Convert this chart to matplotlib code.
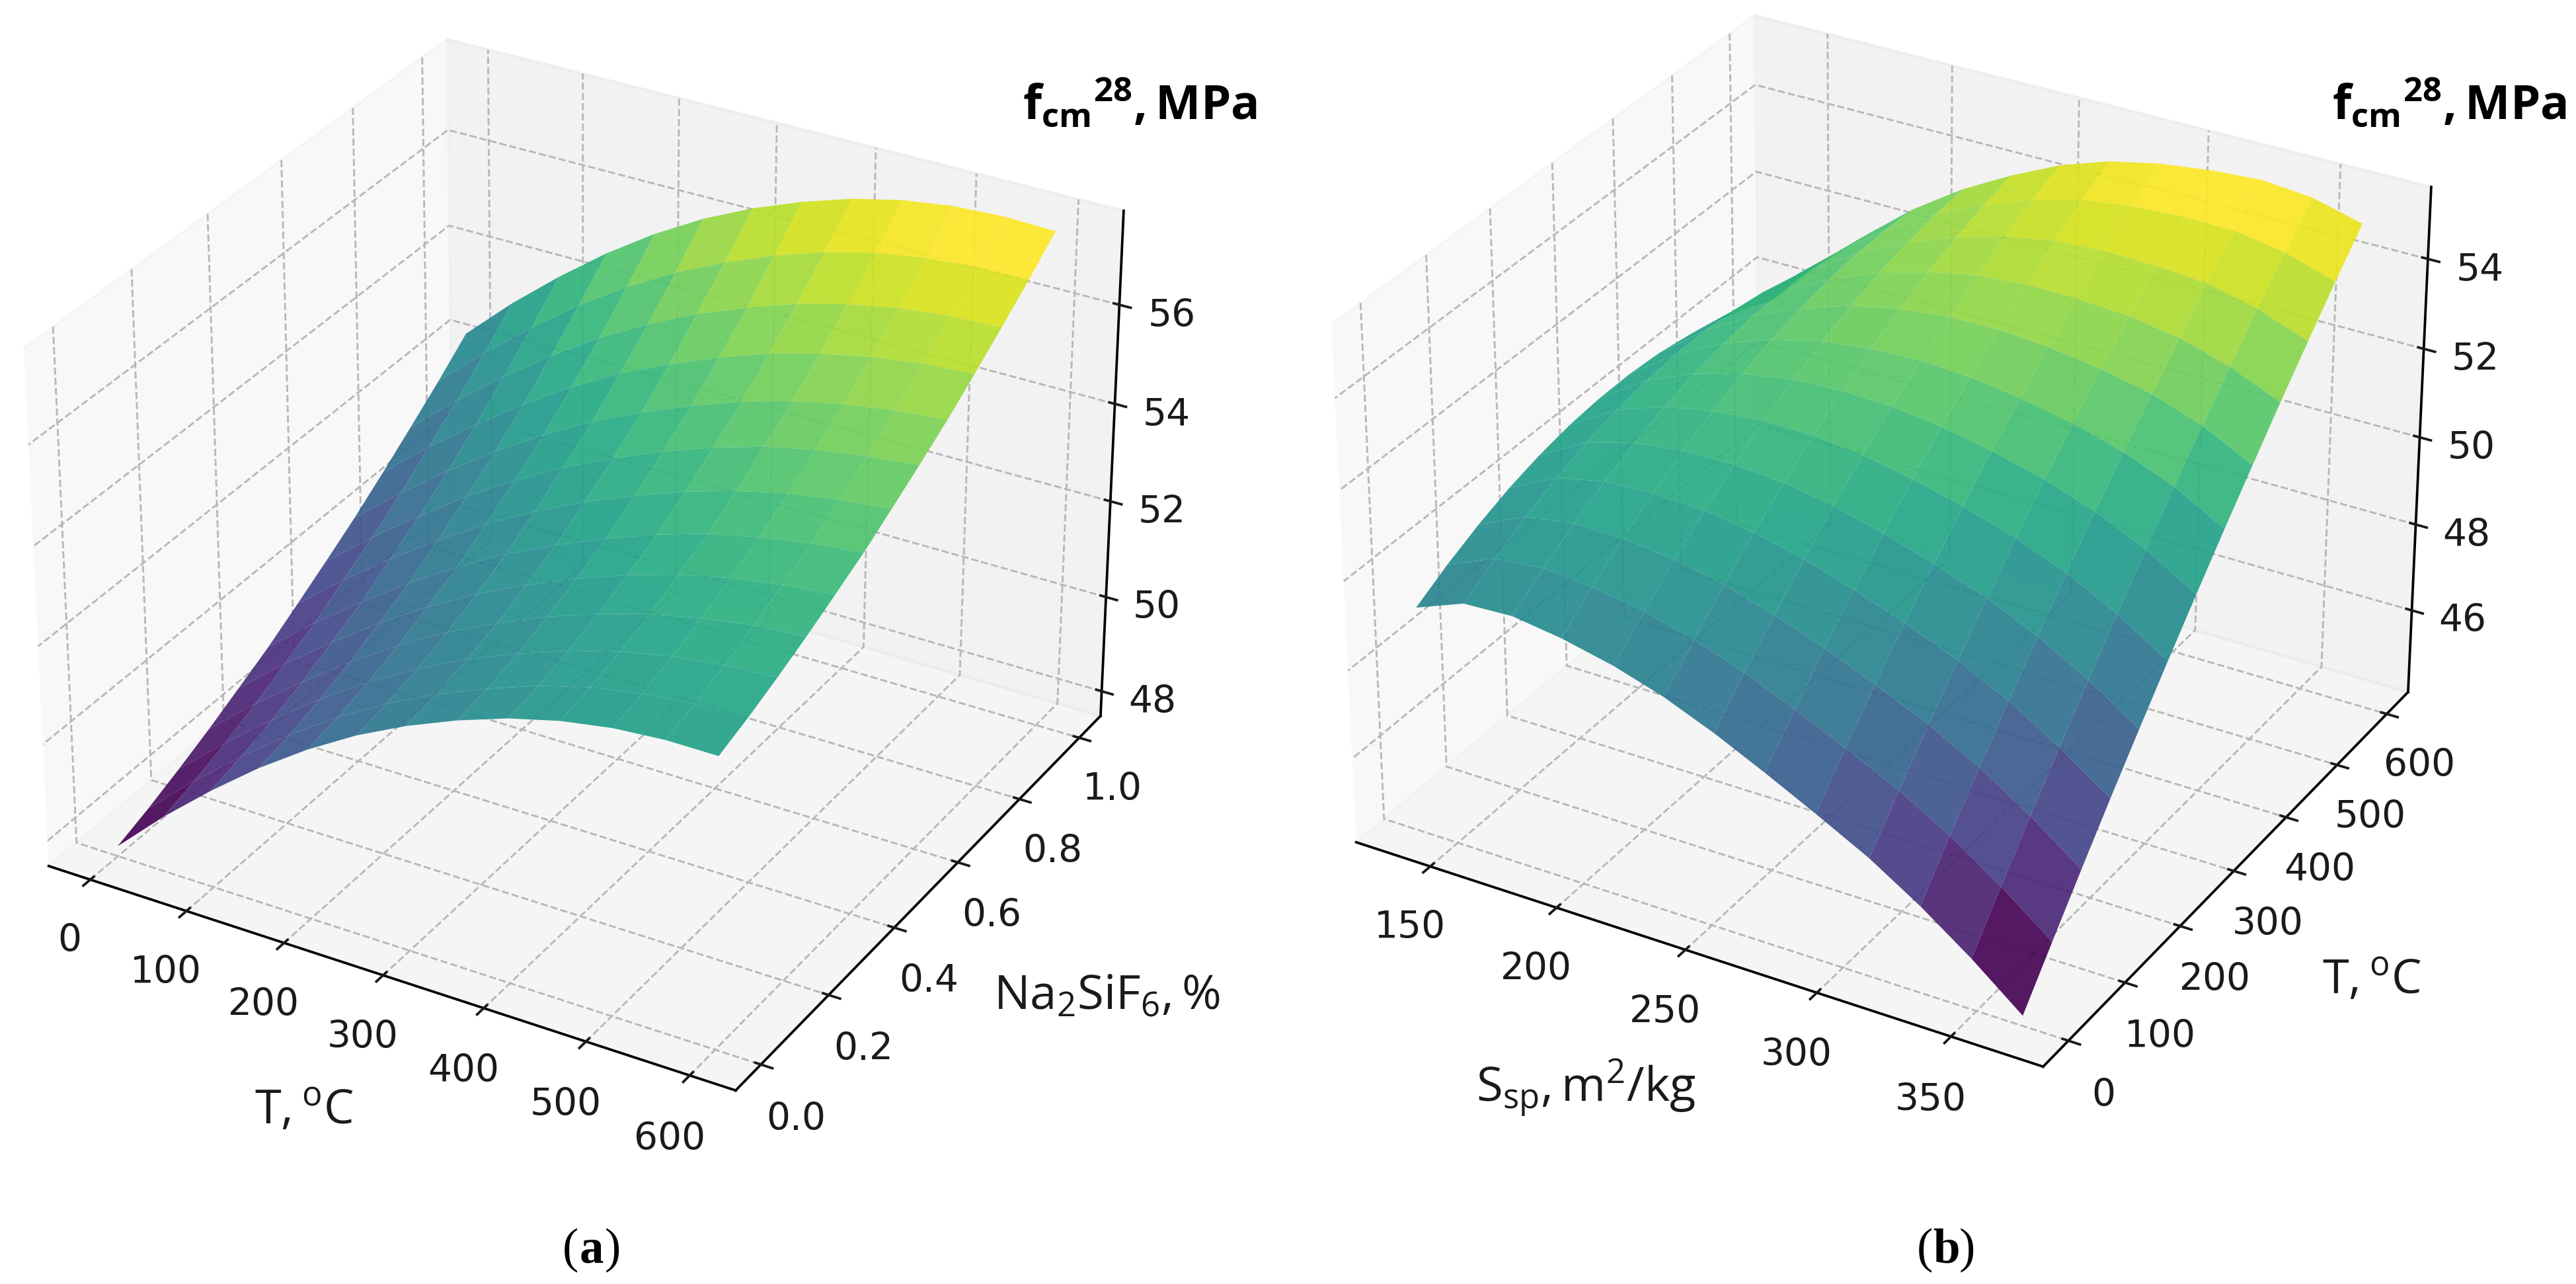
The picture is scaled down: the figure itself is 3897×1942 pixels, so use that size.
import matplotlib
matplotlib.use("Agg")
import matplotlib.pyplot as plt
import numpy as np

W, H = 3897, 1942
DPI = 300

T_a = [0, 50, 100, 150, 200, 250, 300, 350, 400, 450, 500, 550, 600]
Na_a = [0.0, 0.083, 0.167, 0.25, 0.333, 0.417, 0.5, 0.583, 0.667, 0.75, 0.833, 0.917, 1.0]
F_a = [
 [47.68,48.62,49.47,50.25,50.94,51.54,52.04,52.46,52.81,53.07,53.24,53.32,53.32],
 [47.92,48.82,49.64,50.39,51.06,51.65,52.14,52.56,52.92,53.20,53.38,53.49,53.53],
 [48.20,49.06,49.85,50.58,51.24,51.81,52.31,52.72,53.09,53.37,53.58,53.71,53.78],
 [48.50,49.34,50.10,50.82,51.46,52.03,52.51,52.94,53.30,53.59,53.81,53.97,54.05],
 [48.83,49.65,50.40,51.10,51.73,52.29,52.77,53.19,53.56,53.86,54.09,54.25,54.35],
 [49.17,49.98,50.71,51.41,52.03,52.59,53.06,53.48,53.85,54.16,54.38,54.55,54.66],
 [49.56,50.37,51.10,51.78,52.40,52.95,53.43,53.84,54.21,54.51,54.75,54.91,55.02],
 [49.96,50.76,51.49,52.19,52.80,53.35,53.82,54.24,54.60,54.90,55.12,55.28,55.39],
 [50.38,51.19,51.93,52.62,53.24,53.79,54.26,54.67,55.03,55.32,55.54,55.69,55.78],
 [50.84,51.67,52.41,53.11,53.74,54.30,54.76,55.17,55.52,55.79,56.00,56.14,56.21],
 [51.32,52.16,52.93,53.64,54.28,54.83,55.31,55.70,56.05,56.31,56.50,56.61,56.66],
 [51.82,52.69,53.48,54.22,54.86,55.42,55.89,56.29,56.62,56.87,57.03,57.11,57.13],
 [52.35,53.26,54.08,54.83,55.49,56.06,56.53,56.92,57.24,57.47,57.61,57.66,57.63],
]

S_b = [137, 156, 175, 194, 214, 233, 252, 271, 290, 310, 329, 348, 367]
T_b = [0, 50, 100, 150, 200, 250, 300, 350, 400, 450, 500, 550, 600]
F_b = [
 [49.20,49.62,49.67,49.51,49.25,48.90,48.44,47.91,47.35,46.73,46.02,45.21,44.30],
 [49.59,50.05,50.16,50.07,49.88,49.58,49.19,48.71,48.20,47.62,46.96,46.19,45.31],
 [49.92,50.42,50.59,50.58,50.45,50.22,49.88,49.48,49.01,48.48,47.87,47.14,46.30],
 [50.19,50.73,50.97,51.02,50.98,50.81,50.54,50.19,49.79,49.31,48.75,48.06,47.27],
 [50.39,50.98,51.28,51.42,51.44,51.35,51.16,50.87,50.52,50.11,49.59,48.96,48.21],
 [50.53,51.17,51.55,51.76,51.87,51.85,51.73,51.51,51.23,50.86,50.42,49.84,49.13],
 [50.60,51.30,51.75,52.06,52.24,52.30,52.26,52.12,51.90,51.60,51.21,50.69,50.03],
 [50.61,51.37,51.90,52.29,52.57,52.70,52.75,52.68,52.52,52.29,51.97,51.52,50.91],
 [50.56,51.37,52.00,52.47,52.84,53.06,53.19,53.20,53.12,52.95,52.71,52.32,51.76],
 [50.44,51.32,52.03,52.60,53.07,53.37,53.59,53.68,53.67,53.59,53.41,53.08,52.60],
 [50.26,51.21,52.01,52.68,53.23,53.63,53.95,54.14,54.20,54.18,54.09,53.83,53.41],
 [50.01,51.03,51.92,52.70,53.36,53.85,54.26,54.54,54.68,54.75,54.73,54.55,54.20],
 [49.70,50.80,51.79,52.67,53.43,54.02,54.53,54.90,55.13,55.28,55.35,55.25,54.96],
]

xticks_a = [0, 100, 200, 300, 400, 500, 600]
yticks_a = [0.0, 0.2, 0.4, 0.6, 0.8, 1.0]
zticks_a = [48, 50, 52, 54, 56]
xticks_b = [150, 200, 250, 300, 350]
yticks_b = [0, 100, 200, 300, 400, 500, 600]
zticks_b = [46, 48, 50, 52, 54]

plt.rcParams.update({
    "font.family": ["DejaVu Sans"],
    "mathtext.fontset": "custom",
    "mathtext.rm": "Open Sans",
    "mathtext.it": "Open Sans:italic",
    "mathtext.bf": "Open Sans:bold",
    "grid.linestyle": "--",
    "grid.color": "#b8b8b8",
    "grid.linewidth": 0.7,
    "axes.linewidth": 0.9,
    "xtick.major.width": 0.9,
    "ytick.major.width": 0.9,
})

fig = plt.figure(figsize=(W / DPI, H / DPI), dpi=DPI)


def panel(cx, cy, side, x, y, z, xt, yt, zt):
    ax = fig.add_axes([(cx - side / 2) / W, 1 - (cy + side / 2) / H, side / W, side / H],
                      projection="3d")
    X, Y = np.meshgrid(x, y)
    ax.plot_surface(X, Y, np.array(z), cmap="viridis", rstride=1, cstride=1,
                    linewidth=0, alpha=0.9)
    ax.set_xticks(xt)
    ax.set_yticks(yt)
    ax.set_zticks(zt)
    ax.tick_params(labelsize=13.6, colors="#1a1a1a")
    return ax


panel(859, 841, 1850, T_a, Na_a, F_a, xticks_a, yticks_a, zticks_a)
panel(2837, 805, 1850, S_b, T_b, F_b, xticks_b, yticks_b, zticks_b)


def label(x, y, s, **kw):
    kw.setdefault("fontsize", 17.4)
    kw.setdefault("color", "#1a1a1a")
    fig.text(x / W, 1 - y / H, s, va="baseline", **kw)


title = r"$\mathbf{f_{cm}{}^{28},MPa}$"
label(1547, 180, title, color="black")
label(3528, 180, title, color="black")
label(385, 1700, r"$\mathrm{T,{}^{o}C}$")
label(1503, 1526, r"$\mathrm{Na_{2}SiF_{6},\%}$")
label(2233, 1665, r"$\mathrm{S_{sp},m^{2}/kg}$")
label(3513, 1503, r"$\mathrm{T,{}^{o}C}$")

serif = ["Liberation Serif"]
for cx, letter in [(895, "a"), (2944, "b")]:
    label(cx, 1909, letter, ha="center", family=serif, fontweight="bold", fontsize=17.5, color="black")
    label(cx - 20, 1909, "(", ha="right", family=serif, fontsize=17.5, color="black")
    label(cx + 20, 1909, ")", ha="left", family=serif, fontsize=17.5, color="black")

fig.savefig("out.png", dpi=DPI, facecolor="white")
